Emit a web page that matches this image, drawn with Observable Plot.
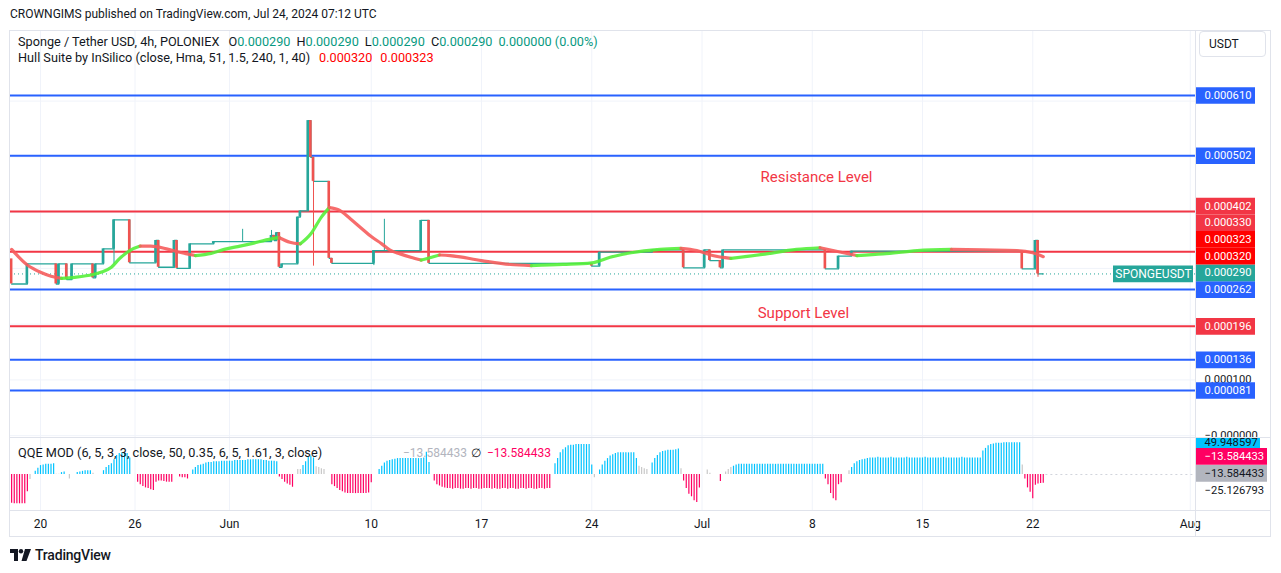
<!DOCTYPE html>
<html><head><meta charset="utf-8">
<script src="https://cdn.jsdelivr.net/npm/d3@7"></script>
<script src="https://cdn.jsdelivr.net/npm/@observablehq/plot@0.6"></script>
<style>
body{margin:0;background:#fff;}
#root{position:relative;width:1281px;height:573px;overflow:hidden;background:#fff;font-family:Roboto,"Liberation Sans",sans-serif;color:#131722;font-size:12px;}
.abs{position:absolute;}
.line{position:absolute;background:#e0e3eb;}
.leg{font-size:12.7px;line-height:16px;white-space:nowrap;}
.legn{font-size:12px;line-height:16px;white-space:nowrap;}
</style></head><body><div id="root"></div>
<script>
// ---------------- DATA ----------------
const candleTimes = ["2024-05-18T04:00Z","2024-05-19T04:00Z","2024-05-21T00:00Z","2024-05-21T04:00Z","2024-05-21T16:00Z","2024-05-22T00:00Z","2024-05-23T08:00Z","2024-05-23T12:00Z","2024-05-24T00:00Z","2024-05-24T16:00Z","2024-05-25T16:00Z","2024-05-27T08:00Z","2024-05-27T12:00Z","2024-05-28T12:00Z","2024-05-28T16:00Z","2024-05-29T12:00Z","2024-05-31T00:00Z","2024-06-01T20:00Z","2024-06-03T16:00Z","2024-06-03T20:00Z","2024-06-04T00:00Z","2024-06-04T04:00Z","2024-06-04T08:00Z","2024-06-05T08:00Z","2024-06-05T12:00Z","2024-06-06T00:00Z","2024-06-06T04:00Z","2024-06-06T08:00Z","2024-06-07T08:00Z","2024-06-07T12:00Z","2024-06-10T04:00Z","2024-06-10T20:00Z","2024-06-13T04:00Z","2024-06-13T16:00Z","2024-06-24T00:00Z","2024-06-24T12:00Z","2024-06-27T20:00Z","2024-06-29T20:00Z","2024-07-01T04:00Z","2024-07-01T12:00Z","2024-07-02T04:00Z","2024-07-02T08:00Z","2024-07-08T20:00Z","2024-07-09T16:00Z","2024-07-10T12:00Z","2024-07-21T08:00Z","2024-07-22T04:00Z","2024-07-22T08:00Z"];
const candleOpen  = [0.000317,0.000272,0.000308,0.000272,0.000308,0.000280,0.000308,0.000283,0.000308,0.000335,0.000387,0.000310,0.000350,0.000302,0.000350,0.000300,0.000344,0.000348,0.000348,0.000359,0.000350,0.000364,0.000302,0.000308,0.000392,0.000403,0.000565,0.000499,0.000456,0.000318,0.000309,0.000332,0.000332,0.000386,0.000309,0.000304,0.000329,0.000333,0.000301,0.000333,0.000314,0.000301,0.000333,0.000299,0.000322,0.000331,0.000299,0.000350];
const candleClose = [0.000272,0.000308,0.000272,0.000308,0.000280,0.000308,0.000283,0.000308,0.000335,0.000387,0.000310,0.000350,0.000302,0.000350,0.000300,0.000344,0.000348,0.000348,0.000359,0.000350,0.000364,0.000302,0.000308,0.000392,0.000403,0.000565,0.000499,0.000456,0.000318,0.000309,0.000332,0.000332,0.000386,0.000309,0.000304,0.000329,0.000333,0.000301,0.000333,0.000314,0.000301,0.000333,0.000299,0.000322,0.000331,0.000299,0.000350,0.000290];
const candleHigh  = [null,null,null,null,null,null,null,null,null,null,null,null,null,null,null,null,null,0.000370,0.000368,null,null,null,null,null,null,null,null,null,null,null,null,0.000388,null,null,null,null,null,null,null,null,null,null,null,null,null,null,null,null];
const candleLow   = [null,null,null,null,null,null,null,null,null,0.000308,null,null,null,null,null,null,null,null,null,null,null,null,null,null,null,null,null,0.000304,null,null,0.000305,null,null,null,null,null,null,null,null,null,null,null,null,null,null,null,null,0.000284];
const lastBarTime = "2024-07-22T16:00Z";
const lastOHLC = [0.000290,0.000290,0.000290,0.000290];

const hullTimes = ["2024-05-18T04:00Z","2024-05-19T04:00Z","2024-05-20T00:00Z","2024-05-20T16:00Z","2024-05-21T08:00Z","2024-05-22T04:00Z","2024-05-23T08:00Z","2024-05-23T20:00Z","2024-05-24T12:00Z","2024-05-25T00:00Z","2024-05-25T16:00Z","2024-05-26T08:00Z","2024-05-27T00:00Z","2024-05-28T00:00Z","2024-05-28T20:00Z","2024-05-29T20:00Z","2024-05-30T20:00Z","2024-05-31T16:00Z","2024-06-01T16:00Z","2024-06-02T08:00Z","2024-06-03T16:00Z","2024-06-04T04:00Z","2024-06-04T20:00Z","2024-06-05T12:00Z","2024-06-06T04:00Z","2024-06-06T20:00Z","2024-06-07T08:00Z","2024-06-08T00:00Z","2024-06-08T16:00Z","2024-06-09T08:00Z","2024-06-10T00:00Z","2024-06-10T16:00Z","2024-06-11T04:00Z","2024-06-11T20:00Z","2024-06-12T12:00Z","2024-06-13T04:00Z","2024-06-13T20:00Z","2024-06-14T08:00Z","2024-06-15T00:00Z","2024-06-17T00:00Z","2024-06-18T20:00Z","2024-06-20T04:00Z","2024-06-22T04:00Z","2024-06-24T00:00Z","2024-06-25T04:00Z","2024-06-26T12:00Z","2024-06-28T08:00Z","2024-06-29T16:00Z","2024-06-30T16:00Z","2024-07-01T16:00Z","2024-07-02T20:00Z","2024-07-04T20:00Z","2024-07-07T00:00Z","2024-07-08T12:00Z","2024-07-09T20:00Z","2024-07-10T20:00Z","2024-07-12T12:00Z","2024-07-14T16:00Z","2024-07-16T20:00Z","2024-07-18T20:00Z","2024-07-21T00:00Z","2024-07-22T00:00Z","2024-07-22T16:00Z"];
const hullValues = [0.000334,0.000306,0.000293,0.000286,0.000282,0.000284,0.000289,0.000293,0.000302,0.000317,0.000332,0.000340,0.000340,0.000335,0.000329,0.000323,0.000327,0.000334,0.000340,0.000344,0.000353,0.000355,0.000347,0.000344,0.000362,0.000392,0.000409,0.000404,0.000389,0.000373,0.000357,0.000344,0.000333,0.000326,0.000320,0.000315,0.000320,0.000324,0.000323,0.000314,0.000307,0.000305,0.000307,0.000310,0.000320,0.000328,0.000334,0.000336,0.000332,0.000323,0.000318,0.000325,0.000334,0.000337,0.000329,0.000323,0.000326,0.000332,0.000334,0.000333,0.000332,0.000328,0.000321];
const hullTrend = ["down","down","down","down","up","up","up","up","up","up","up","down","down","down","down","up","up","up","up","up","up","down","down","up","up","up","down","down","down","down","down","down","down","down","down","up","up","down","down","down","down","up","up","up","up","up","up","down","down","down","up","up","up","down","down","up","up","up","down","down","down","down","down"];
const hullLegend = [0.000320,0.000323];

const levelPrices = [0.000610,0.000502,0.000402,0.000330,0.000262,0.000196,0.000136,0.000081];
const levelKinds  = ["range","range","key","key","range","key","range","range"];

const noteTexts  = ["Resistance Level","Support Level"];
const noteTimes  = ["2024-07-08T06:30Z","2024-07-07T10:30Z"];
const notePrices = [0.000463,0.000219];

const priceTicks = [0.0006,0.0005,0.0004,0.0003,0.0002,0.0001,0];
const priceTickLabels = ["0.000600","0.000500","0.000400","0.000300","0.000200","0.000100","\u22120.000000"];

const dateTicks = ["2024-05-20","2024-05-26","2024-06-01","2024-06-10","2024-06-17","2024-06-24","2024-07-01","2024-07-08","2024-07-15","2024-07-22","2024-08-01"];
const dateTickLabels = ["20","26","Jun","10","17","24","Jul","8","15","22","Aug"];

// QQE MOD histogram, one value per 4h bar from qqeStart; b = above band, p = below band, g = neutral
const qqeStart = "2024-05-18T04:00Z";
const qqeRuns = [
 ["p",[-45,-46,-46,-46,-46,-46,-27]],
 ["g",[-8,0]],
 ["b",[5,10,14,15,16,16,16,17]],
 ["g",[0.5,0.5]],
 ["b",[3,4]],
 ["g",[0,-7,0,0]],
 ["b",[3,4,5,6,6,6]],
 ["g",[2,0,0,0]],
 ["b",[6,11,14,17,23,30,33,34,34,33,26]],
 ["g",[0,0]],
 ["p",[-12,-16,-19,-21,-22,-24,-25,-12,-10,-10,-11,-12,-12,-12]],
 ["g",[0,0]],
 ["p",[-4,-5,-5,-7]],
 ["g",[0]],
 ["b",[7,11,14,15,16,18,19,19,20,20,20,21,21,21,21,21,22,22,22,22,22,23,23,23,23,23,23,22,22,21,21,21,20]],
 ["p",[-4,-8,-12,-15,-17,-20]],
 ["g",[0,8,8]],
 ["b",[14,20,27,29,26]],
 ["g",[12,11,9,8,0,0]],
 ["p",[-16,-19,-22,-25,-27,-29,-30,-30,-30,-30,-30,-30,-30,-30,-29,-13]],
 ["g",[0,0]],
 ["b",[8,13,18,21,22,23,24,25,25,25,25,25,25,25,25,25,25,26,35,19]],
 ["g",[0]],
 ["p",[-10,-16,-18,-20,-21,-22,-22,-23,-22,-22,-23,-23,-22,-22,-23,-22,-22,-23,-23,-22,-22,-22,-23,-22,-23,-23,-22,-22,-23,-22,-22,-23,-23,-22,-22,-23,-22,-22,-23,-23,-22,-22,-23,-22,-22]],
 ["g",[0]],
 ["b",[17,25,34,39,42,45,46,46,47,47,47,47,47,47,15]],
 ["g",[-5,0]],
 ["b",[7,15,21,25,29,31,33,34,34,34,34,34,34,34,25]],
 ["g",[13,11,9,8,0]],
 ["b",[18,25,30,34,36,37,38,38,38,39,40]],
 ["g",[9]],
 ["p",[-10,-22,-31,-35,-41,-44,-21]],
 ["g",[0,0,7,2,0,0,0]],
 ["p",[-11]],
 ["g",[0,4,8,11]],
 ["b",[13,15,16,16,16,16,16,16,16,16,16,16,16,16,16,16,16,16,16,16,16,16,16,16,16,16,16,16,16,16,16,16,16,16,16]],
 ["p",[-7,-16,-30,-38,-41,-16,-13]],
 ["g",[0,0,6]],
 ["b",[11,17,20,22,23,24,25,26,26,26,27,26,26,26,26,27,26,26,26,26,26,27,26,26,26,26,26,26,27,26,26,26,26,26,26,27,26,26,26,26,26,26,27,26,26,26,26,26,26,26,37,41,45,47,48,49,49,49,50,50,50,50,50,50,50]],
 ["g",[15]],
 ["p",[-7,-21,-28,-38,-17,-15,-14,-13.584433]]
];
const qqeTagValues = [49.948597,-13.584433,-13.584433];
const qqeTagKinds  = ["b","p","signal"];
const qqeTick = -25.126793;

// ---------------- STYLE / LAYOUT ----------------
const FONT = 'Roboto,"Liberation Sans",sans-serif';
const TEAL = "#26a69a", RED = "#ef5350", BLUE = "#2962ff", KEYRED = "#f23645", HULLRED = "#ff0000";
const levelColor = {range: BLUE, key: KEYRED};
const qqeColor = {b: "#00c3ff", p: "#ff0062", g: "#c8c8c8"};
const H4 = 4 * 3600 * 1000;
const xDomain = [new Date("2024-05-18T02:17Z"), new Date("2024-08-01T08:00Z")];
const priceDomain = [-0.0000033, 0.0007248];
const qqeDomain = [-56.5, 58.1];
const PANE_H = 406, QQE_H = 73, BOX_H = 16.7, AXIS_FS = 11.2;

const root = document.getElementById("root");
function place(el, left, top, extra, cls) {
  const d = document.createElement("div");
  d.className = "abs" + (cls ? " " + cls : ""); d.style.left = left + "px"; d.style.top = top + "px";
  if (extra) Object.assign(d.style, extra);
  if (typeof el === "string") d.innerHTML = el; else d.appendChild(el);
  root.appendChild(d); return d;
}
function hline(x, y, w) { const d = document.createElement("div"); d.className = "line"; Object.assign(d.style, {left: x+"px", top: y+"px", width: w+"px", height: "1px"}); root.appendChild(d); }
function vline(x, y, h) { const d = document.createElement("div"); d.className = "line"; Object.assign(d.style, {left: x+"px", top: y+"px", width: "1px", height: h+"px"}); root.appendChild(d); }

// derived tables
const candles = candleTimes.map((t, i) => {
  const tt = new Date(t);
  return {t: tt, t1: new Date(+tt - H4/2), t2: new Date(+tt + H4/2), o: candleOpen[i], c: candleClose[i], h: candleHigh[i], l: candleLow[i], up: candleClose[i] >= candleOpen[i]};
});
const steps = candles.map(d => ({t: d.t, p: d.c})).concat([{t: new Date(lastBarTime), p: candleClose[candleClose.length - 1]}]);
const wicks = candles.filter(d => d.h != null || d.l != null);
const hull = hullTimes.map((t, i) => ({t: new Date(t), v: hullValues[i], trend: hullTrend[i]}));
const levels = levelPrices.map((p, i) => ({p, kind: levelKinds[i]}));
const notes = noteTexts.map((s, i) => ({s, t: new Date(noteTimes[i]), p: notePrices[i]}));
const tickDates = dateTicks.map(d => new Date(d + "T00:00Z"));
const tickLabelMap = new Map(tickDates.map((d, i) => [+d, dateTickLabels[i]]));
const qqe = [];
{ let i = 0; const t0 = +new Date(qqeStart);
  for (const [k, vals] of qqeRuns) for (const v of vals) { qqe.push({t: new Date(t0 + i * H4), v, k}); i++; } }
const lastPrice = lastOHLC[3];

// ---------------- MAIN PRICE PANE ----------------
const pricePlot = Plot.plot({
  width: 1260, height: PANE_H, marginLeft: 0, marginRight: 75, marginTop: 0, marginBottom: 0,
  style: {fontFamily: FONT, fontSize: "12px", background: "transparent", overflow: "visible"},
  x: {type: "utc", domain: xDomain, axis: null},
  y: {domain: priceDomain, axis: null},
  marks: [
    Plot.gridX(tickDates, {stroke: "#f0f3fa", strokeOpacity: 1}),
    Plot.gridY(priceTicks, {stroke: "#f0f3fa", strokeOpacity: 1}),
    Plot.ruleY(levels, {y: "p", stroke: d => levelColor[d.kind], strokeWidth: 2}),
    Plot.ruleY([lastPrice], {stroke: TEAL, strokeWidth: 1, strokeDasharray: "1,3"}),
    Plot.line(steps, {x: "t", y: "p", curve: "step-after", stroke: TEAL, strokeWidth: 1.3}),
    Plot.ruleX(wicks, {x: "t", y1: d => d.l ?? Math.min(d.o, d.c), y2: d => d.h ?? Math.max(d.o, d.c), stroke: d => d.up ? TEAL : RED, strokeWidth: 1}),
    Plot.rect(candles, {x1: "t1", x2: "t2", y1: "o", y2: "c", fill: d => d.up ? TEAL : RED}),
    Plot.line(hull, {x: "t", y: "v", z: null, stroke: d => d.trend === "up" ? "#55f03a" : "#f65c5c", strokeWidth: 3.2, strokeOpacity: 0.9, curve: "monotone-x"}),
    Plot.ruleY([lastPrice], {stroke: TEAL, strokeWidth: BOX_H, insetLeft: 1103, insetRight: 2}),
    Plot.text([lastPrice], {y: d => d, text: () => "SPONGEUSDT", frameAnchor: "right", dx: -42, textAnchor: "middle", fill: "white", fontSize: 12}),
    Plot.text(notes, {x: "t", y: "p", text: "s", fill: KEYRED, fontSize: 15})
  ]
});
place(pricePlot, 10, 31);

// ---------------- PRICE AXIS LABELS ----------------
const yPrice = Plot.scale({y: {domain: priceDomain, range: [PANE_H, 0]}});
const tags = [
  ...levels.map(d => ({v: d.p, fill: levelColor[d.kind], color: "white"})),
  ...hullLegend.map(v => ({v, fill: HULLRED, color: "white"})),
  {v: lastPrice, fill: TEAL, color: "white"}
];
tags.sort((a, b) => yPrice.apply(b.v) - yPrice.apply(a.v));
{ let prev = Infinity; for (const t of tags) { const py = Math.min(yPrice.apply(t.v), prev - BOX_H); t.py = py; t.yv = yPrice.invert(py); prev = py; } }
// tick labels hidden behind a tag box are not drawn
const visibleTicks = priceTicks.map((v, i) => ({v, s: priceTickLabels[i]}))
  .filter(d => tags.every(t => Math.abs(t.py - yPrice.apply(d.v)) > 9));
const priceAxis = Plot.plot({
  width: 74, height: PANE_H, marginLeft: 0, marginRight: 0, marginTop: 0, marginBottom: 0,
  style: {fontFamily: FONT, fontSize: "12px", background: "transparent", overflow: "visible"},
  y: {domain: priceDomain, axis: null},
  marks: [
    Plot.text(visibleTicks, {y: "v", text: "s", frameAnchor: "left", dx: 8, fill: "#131722", fontSize: AXIS_FS}),
    Plot.ruleY(tags, {y: "yv", stroke: "fill", strokeWidth: BOX_H, insetRight: 15}),
    Plot.text(tags, {y: "yv", text: d => d.v.toFixed(6), frameAnchor: "left", dx: 8, fill: "color", fontSize: AXIS_FS})
  ]
});
place(priceAxis, 1196, 31);

// ---------------- QQE PANE ----------------
const lastQ = qqe[qqe.length - 1].t;
const qqePlot = Plot.plot({
  width: 1260, height: QQE_H + 27, marginLeft: 0, marginRight: 75, marginTop: 0, marginBottom: 27,
  style: {fontFamily: FONT, fontSize: "12px", background: "transparent", color: "#131722"},
  x: {type: "utc", domain: xDomain, label: null},
  y: {domain: qqeDomain, axis: null},
  marks: [
    Plot.gridX(tickDates, {stroke: "#f0f3fa", strokeOpacity: 1}),
    Plot.ruleY([0], {x1: () => new Date(+lastQ + H4), x2: () => xDomain[1], stroke: "#d1d4dc", strokeDasharray: "2,3"}),
    Plot.ruleX(qqe, {x: "t", y1: 0, y2: "v", stroke: d => qqeColor[d.k], strokeWidth: 1.2}),
    Plot.axisX(tickDates, {tickFormat: d => tickLabelMap.get(+d), tickSize: 0, tickPadding: 9, fontSize: 12, anchor: "bottom", label: null})
  ]
});
place(qqePlot, 10, 437);

// ---------------- QQE AXIS LABELS ----------------
const yQ = Plot.scale({y: {domain: qqeDomain, range: [QQE_H, 0]}});
const qStack = [0, 13.6, 30.6];
const topPy = yQ.apply(qqeTagValues[0]);
const qTags = qqeTagValues.map((v, i) => ({v, k: qqeTagKinds[i], yv: yQ.invert(topPy + qStack[i])}));
const qFill = {b: "#00c3ff", p: "#ff0062", signal: "#b2b5be"};
const qText = {b: "#131722", p: "white", signal: "#131722"};
const qNum = v => (v < 0 ? "\u2212" : "") + Math.abs(v).toFixed(6);
const qqeAxis = Plot.plot({
  width: 74, height: QQE_H, marginLeft: 0, marginRight: 0, marginTop: 0, marginBottom: 0,
  style: {fontFamily: FONT, fontSize: "12px", background: "white"},
  y: {domain: qqeDomain, axis: null},
  marks: [
    Plot.text([qqeTick], {y: d => d, text: qNum, frameAnchor: "left", dx: 8, fill: "#131722", fontSize: AXIS_FS}),
    Plot.ruleY(qTags.filter(d => d.k === "b"), {y: "yv", stroke: d => qFill[d.k], strokeWidth: BOX_H, insetRight: 10}),
    Plot.ruleY(qTags.filter(d => d.k !== "b"), {y: "yv", stroke: d => qFill[d.k], strokeWidth: BOX_H, insetRight: 3}),
    Plot.text(qTags, {y: "yv", text: d => qNum(d.v), frameAnchor: "left", dx: 8, fill: d => qText[d.k], fontSize: AXIS_FS})
  ]
});
place(qqeAxis, 1196, 437);

// ---------------- FRAME / SEPARATORS ----------------
hline(9, 30, 1262); hline(9, 536, 1262);
vline(9, 30, 507); vline(1270, 30, 507);
vline(1195, 30, 507);
hline(10, 437, 1260);
hline(10, 510, 1260);

// ---------------- TEXT OVERLAYS ----------------
const fmt = v => v.toFixed(6);
place("CROWNGIMS published on TradingView.com, Jul 24, 2024 07:12 UTC", 10, 6, {lineHeight: "16px", whiteSpace: "nowrap"});
const G = "#089981";
place(`Sponge / Tether USD, 4h, POLONIEX<span style="margin-left:9px">O</span><span style="color:${G}">${fmt(lastOHLC[0])}</span><span style="margin-left:6px">H</span><span style="color:${G}">${fmt(lastOHLC[1])}</span><span style="margin-left:6px">L</span><span style="color:${G}">${fmt(lastOHLC[2])}</span><span style="margin-left:6px">C</span><span style="color:${G}">${fmt(lastOHLC[3])}</span><span style="margin-left:6px;color:${G}">${fmt(lastOHLC[3]-lastOHLC[0])} (0.00%)</span>`, 18, 34, null, "leg");
place(`Hull Suite by InSilico (close, Hma, 51, 1.5, 240, 1, 40)<span style="margin-left:9px;color:${HULLRED}">${fmt(hullLegend[0])}</span><span style="margin-left:8px;color:${HULLRED}">${fmt(hullLegend[1])}</span>`, 18, 50, null, "leg");
place(`QQE MOD (6, 5, 3, 3, close, 50, 0.35, 6, 5, 1.61, 3, close)`, 18, 445, null, "leg");
place(`<span style="color:#b2b5be">${qNum(qqeTagValues[2])}</span>`, 403, 445, null, "legn");
place(`\u2205`, 471, 445, null, "legn");
place(`<span style="color:#ff0062">${qNum(qqeTagValues[1])}</span>`, 487, 445, null, "legn");
place("USDT", 1199, 31, {width: "67px", height: "26px", boxSizing: "border-box", border: "1px solid #e0e3eb", borderRadius: "4px", lineHeight: "24px", paddingLeft: "9px", background: "#fff"});
place(`<svg width="22" height="12" style="vertical-align:-1px"><path d="M0 0H8V12H4V4H0Z" fill="#131722"/><circle cx="11" cy="2.2" r="2.2" fill="#131722"/><path d="M15 0H21L16.5 12H11.5Z" fill="#131722"/></svg><span style="margin-left:3px;font-size:14px;font-weight:500;letter-spacing:-0.2px">TradingView</span>`, 10, 546, {lineHeight: "18px", whiteSpace: "nowrap"});
</script></body></html>
